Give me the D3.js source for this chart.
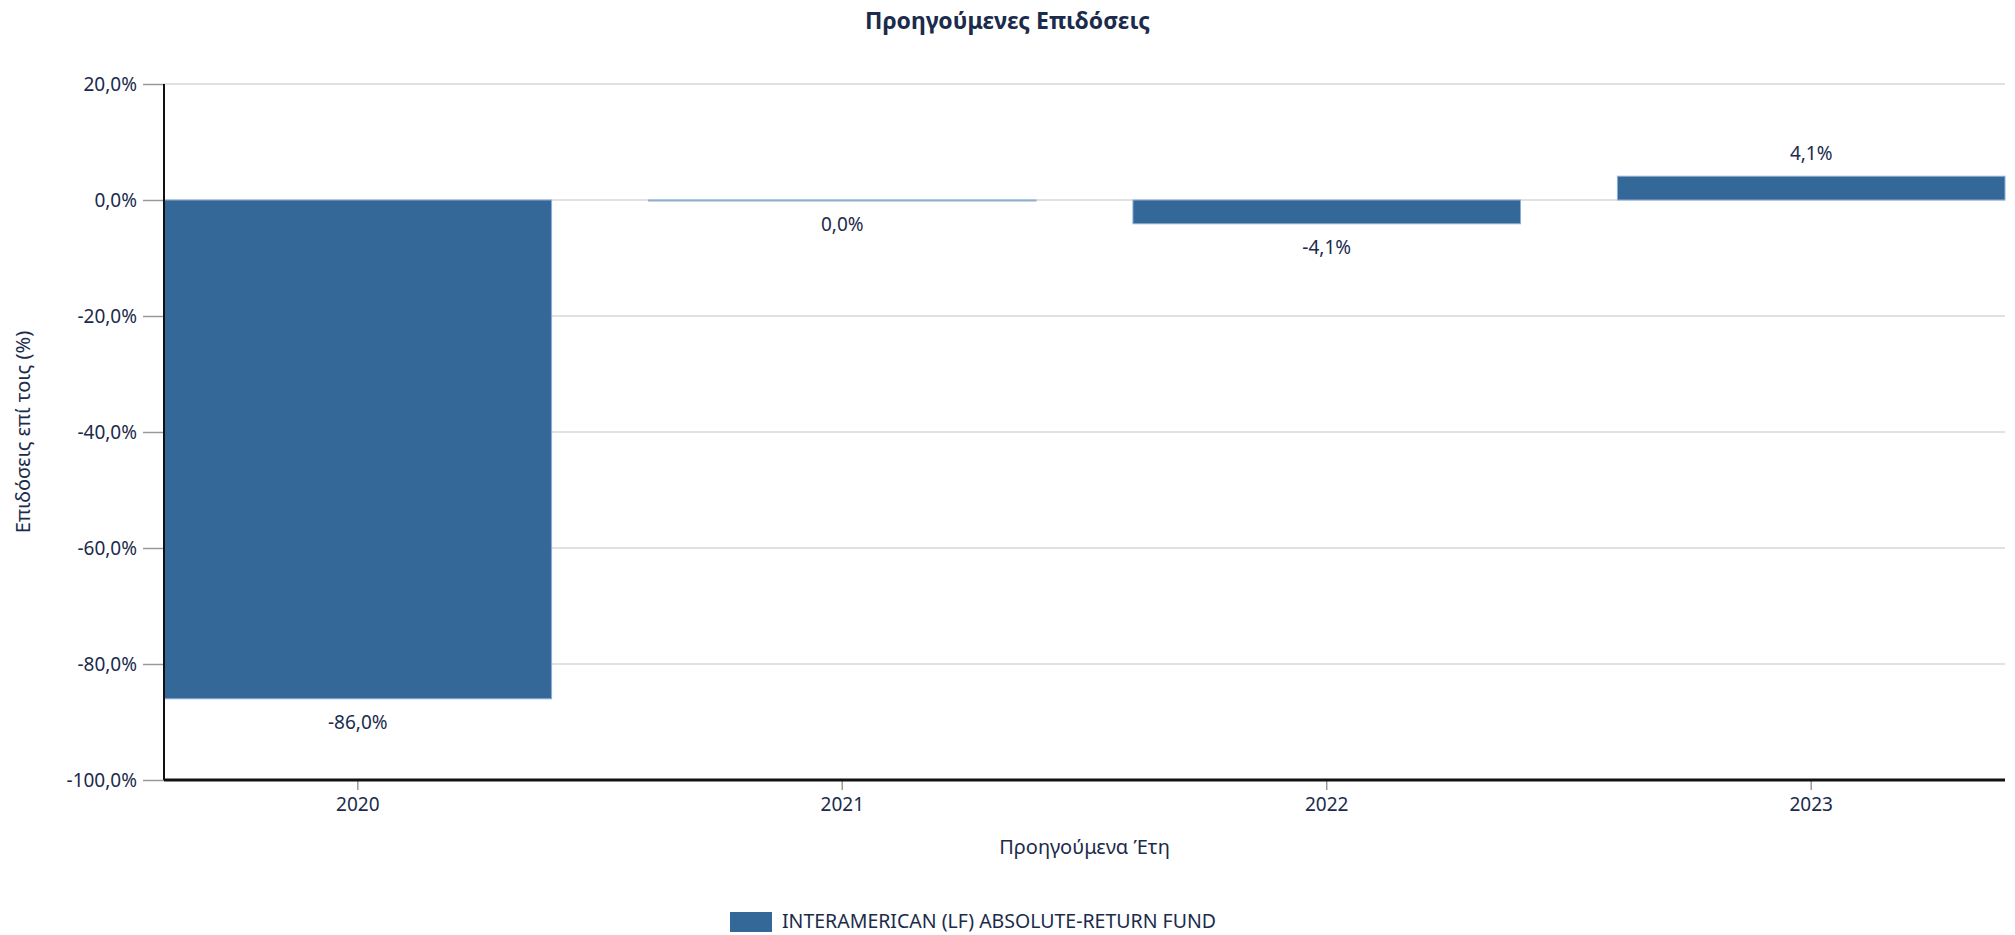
<!DOCTYPE html>
<html>
<head>
<meta charset="utf-8">
<script src="https://cdn.jsdelivr.net/npm/d3@7"></script>
<style>
  body { margin: 0; background: #fff; }
  svg text { font-family: "Noto Sans", sans-serif; fill: #1b2b4b; }
</style>
</head>
<body>
<div id="chart"></div>
<script>
var width = 2015;
var height = 935;

// data
var years = ["2020", "2021", "2022", "2023"];
var returns = [-86.0, 0.0, -4.1, 4.1];
var yTicks = [-100, -80, -60, -40, -20, 0, 20];
var seriesName = "INTERAMERICAN (LF) ABSOLUTE-RETURN FUND";

var plotLeft = 164, plotRight = 2005, plotTop = 84, plotBottom = 780;
var barColor = "#346899";

var fmt = function(v) {
    return d3.format(".1f")(v).replace(".", ",").replace("\u2212", "-") + "%";
};

var svg = d3.select("#chart")
    .append("svg")
    .attr("width", width)
    .attr("height", height);

var xScale = d3.scaleBand().domain(years).range([plotLeft, plotRight])
    .paddingInner(0.2).paddingOuter(0);
var yScale = d3.scaleLinear().domain([-100, 20]).range([plotBottom, plotTop]);

// gridlines
svg.append("g")
    .selectAll("line")
    .data(yTicks)
    .enter()
    .append("line")
    .attr("x1", plotLeft)
    .attr("x2", plotRight)
    .attr("y1", function(d) { return yScale(d); })
    .attr("y2", function(d) { return yScale(d); })
    .attr("stroke", "#e1e1e1")
    .attr("stroke-width", 2);

// bars
svg.append("g")
    .selectAll("rect")
    .data(returns)
    .enter()
    .append("rect")
    .attr("x", function(d, i) { return xScale(years[i]); })
    .attr("width", xScale.bandwidth())
    .attr("y", function(d) { return yScale(Math.max(0, d)); })
    .attr("height", function(d) { return Math.max(1, Math.abs(yScale(d) - yScale(0))); })
    .attr("fill", barColor)
    .attr("stroke", "#8eaed3")
    .attr("stroke-width", 1);

// value labels
svg.append("g")
    .selectAll("text")
    .data(returns)
    .enter()
    .append("text")
    .attr("x", function(d, i) { return xScale(years[i]) + xScale.bandwidth() / 2; })
    .attr("y", function(d) { return d > 0 ? yScale(d) - 23 : yScale(d) + 24; })
    .attr("dy", "0.35em")
    .attr("text-anchor", "middle")
    .style("font-size", "19px")
    .text(function(d) { return fmt(d); });

// y axis
var yAxis = d3.axisLeft(yScale).tickValues(yTicks).tickSize(21).tickPadding(6)
    .tickFormat(fmt);
var gy = svg.append("g")
    .attr("transform", "translate(" + plotLeft + ",0)")
    .call(yAxis);
gy.select(".domain").remove();
gy.selectAll(".tick line").attr("stroke", "#999").attr("stroke-width", 1.5);
gy.selectAll(".tick text").style("font-size", "19px").attr("fill", "#1b2b4b");
svg.append("line")
    .attr("x1", plotLeft).attr("x2", plotLeft)
    .attr("y1", plotTop).attr("y2", plotBottom)
    .attr("stroke", "#111").attr("stroke-width", 2);

// x axis
var xAxis = d3.axisBottom(xScale).tickSize(10).tickPadding(8);
var gx = svg.append("g")
    .attr("transform", "translate(0," + plotBottom + ")")
    .call(xAxis);
gx.select(".domain").remove();
gx.selectAll(".tick line").attr("stroke", "#999").attr("stroke-width", 1.5);
gx.selectAll(".tick text").style("font-size", "19px").attr("fill", "#1b2b4b");
svg.append("line")
    .attr("x1", plotLeft).attr("x2", plotRight)
    .attr("y1", plotBottom).attr("y2", plotBottom)
    .attr("stroke", "#111").attr("stroke-width", 3);

// titles
svg.append("text")
    .attr("x", width / 2)
    .attr("y", 21)
    .attr("dy", "0.35em")
    .attr("text-anchor", "middle")
    .style("font-size", "23px")
    .style("font-weight", "bold")
    .text("Προηγούμενες Επιδόσεις");

svg.append("text")
    .attr("x", (plotLeft + plotRight) / 2)
    .attr("y", 847)
    .attr("dy", "0.35em")
    .attr("text-anchor", "middle")
    .style("font-size", "20px")
    .text("Προηγούμενα Έτη");

svg.append("text")
    .attr("transform", "translate(23," + (plotTop + plotBottom) / 2 + ") rotate(-90)")
    .attr("dy", "0.35em")
    .attr("text-anchor", "middle")
    .style("font-size", "20px")
    .text("Επιδόσεις επί τοις (%)");

// legend
var legend = svg.append("g");
legend.append("rect")
    .attr("x", 730).attr("y", 912)
    .attr("width", 42).attr("height", 20)
    .attr("fill", barColor);
legend.append("text")
    .attr("x", 782).attr("y", 921)
    .attr("dy", "0.35em")
    .style("font-size", "19.5px")
    .text(seriesName);
</script>
</body>
</html>
